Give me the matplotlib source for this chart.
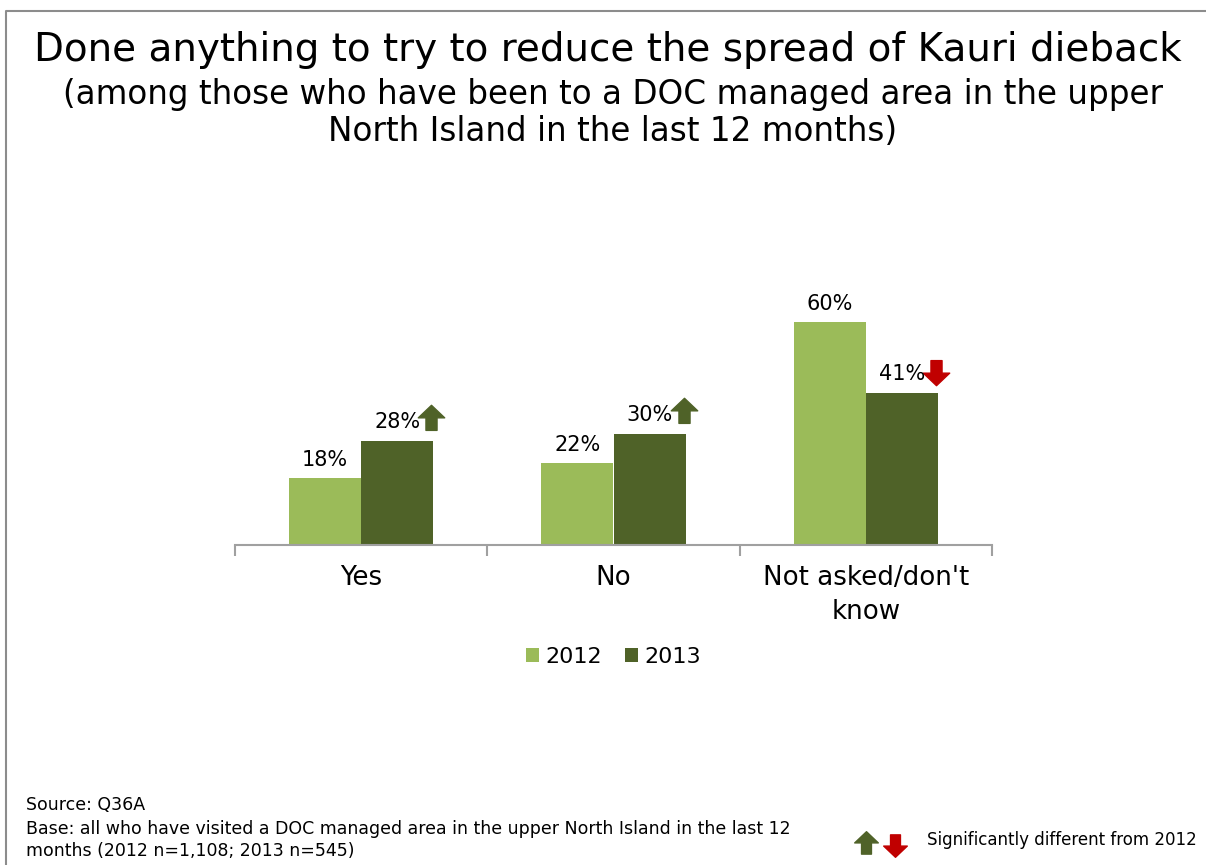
import numpy as np
import matplotlib.pyplot as plt
from matplotlib.path import Path
from matplotlib.lines import Line2D

categories = ["Yes", "No", "Not asked/don't\nknow"]
years = ["2012", "2013"]
values_2012 = [18, 22, 60]
values_2013 = [28, 30, 41]
# +1 significantly higher than 2012, -1 significantly lower
change_2013 = [1, 1, -1]

light_green = "#9BBB59"
dark_green = "#4F6228"
red = "#C00000"
plt.rcParams['font.family'] = ['DejaVu Sans']

# block-arrow marker shapes
up_arrow = Path([(-1, 0.05), (0, 1), (1, 0.05), (0.42, 0.05), (0.42, -0.9),
                 (-0.42, -0.9), (-0.42, 0.05), (-1, 0.05)], closed=True)
down_arrow = Path([(x, -y) for x, y in up_arrow.vertices], closed=True)

fig = plt.figure(figsize=(12.06, 8.65), dpi=100)
ax = fig.add_axes([235 / 1206, 1 - 545 / 865, 757 / 1206, 260 / 865])

x = np.arange(len(categories))
w = 0.286
ax.bar(x - w / 2, values_2012, w, color=light_green, label=years[0])
ax.bar(x + w / 2, values_2013, w, color=dark_green, label=years[1])

for xi, v in zip(x - w / 2, values_2012):
    ax.text(xi, v + 2.3, f"{v}%", ha="center", va="bottom", fontsize=15)
for xi, v, c in zip(x + w / 2, values_2013, change_2013):
    ax.text(xi, v + 2.3, f"{v}%", ha="center", va="bottom", fontsize=15)
    if c > 0:
        ax.plot(xi + 0.135, v + 6.2, marker=up_arrow, markersize=19,
                color=dark_green, linestyle="none")
    elif c < 0:
        ax.plot(xi + 0.135, v + 5.6, marker=down_arrow, markersize=19,
                color=red, linestyle="none")

ax.set_xlim(-0.5, 2.5)
ax.set_ylim(0, 70)
ax.set_yticks([])
for s in ["top", "right", "left"]:
    ax.spines[s].set_visible(False)
ax.spines["bottom"].set_color("#A0A0A0")
ax.spines["bottom"].set_linewidth(1.5)
ax.set_xticks(np.arange(-0.5, 3.0, 1.0), minor=False)
ax.set_xticklabels([])
ax.tick_params(axis="x", length=8, color="#A0A0A0", width=1.5)
for xi, name in zip(x, categories):
    ax.text(xi, -5.3, name, ha="center", va="top", fontsize=18.8,
            linespacing=1.4)

leg = ax.legend(loc="upper center", bbox_to_anchor=(0.5, -0.315), ncol=2,
                frameon=False, fontsize=16, handlelength=0.6,
                handleheight=0.6, handletextpad=0.3, columnspacing=1.0)

fig.text(0.504, 1 - 50 / 865, "Done anything to try to reduce the spread of Kauri dieback",
         ha="center", va="center", fontsize=28)
fig.text(0.508, 1 - 113 / 865,
         "(among those who have been to a DOC managed area in the upper\nNorth Island in the last 12 months)",
         ha="center", va="center", fontsize=23.5, linespacing=1.15)

fig.text(26 / 1206, 1 - 805 / 865, "Source: Q36A", fontsize=12.5, va="center")
fig.text(26 / 1206, 1 - 840 / 865,
         "Base: all who have visited a DOC managed area in the upper North Island in the last 12\nmonths (2012 n=1,108; 2013 n=545)",
         fontsize=12.5, va="center", linespacing=1.3)
fig.text(927 / 1206, 1 - 840 / 865, "Significantly different from 2012",
         fontsize=12, va="center")
fig.add_artist(Line2D([866 / 1206], [1 - 843 / 865], marker=up_arrow, markersize=17,
                      color=dark_green, transform=fig.transFigure))
fig.add_artist(Line2D([895 / 1206], [1 - 845 / 865], marker=down_arrow, markersize=17,
                      color=red, transform=fig.transFigure))

# slide frame
fig.add_artist(Line2D([6 / 1206, 6 / 1206, 1], [0, 1 - 11 / 865, 1 - 11 / 865],
                      color="#8C8C8C", linewidth=1.5, transform=fig.transFigure))

fig.savefig("out.png", dpi=100)
